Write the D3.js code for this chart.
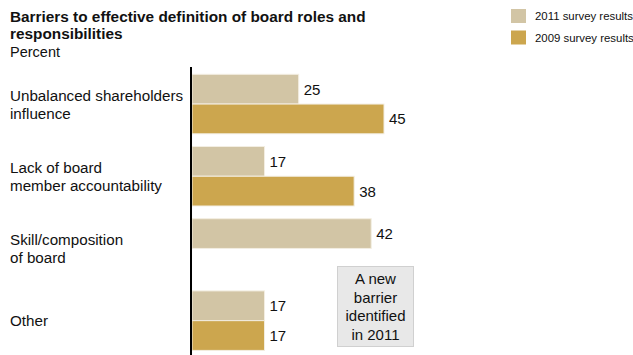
<!DOCTYPE html>
<html>
<head>
<meta charset="utf-8">
<script src="https://cdn.jsdelivr.net/npm/d3@7"></script>
<style>
  html, body { margin: 0; padding: 0; background: #fff; }
  svg { display: block; font-family: "Liberation Sans", Arial, Helvetica, sans-serif; }
</style>
</head>
<body>
<svg id="chart" width="633" height="355"></svg>
<script>
// Barriers to effective definition of board roles, by survey year (percent)
const categories = [
  ["Unbalanced shareholders", "influence"],
  ["Lack of board", "member accountability"],
  ["Skill/composition", "of board"],
  ["Other"]
];
const seriesNames = ["2011 survey results", "2009 survey results"];
const values2011 = [25, 17, 42, 17];
const values2009 = [45, 38, null, 17];
const colors = ["#d2c5a5", "#cca64e"];
const noteLines = ["A new", "barrier", "identified", "in 2011"];

const svg = d3.select("#chart");
const keys = categories.map((c, i) => i);

const x = d3.scaleLinear().domain([0, 45]).range([192, 384]);
const y0 = d3.scaleBand().domain(keys).range([74.3, 350.4]).paddingInner(0.176).paddingOuter(0);
const y1 = d3.scaleBand().domain([0, 1]).range([0, y0.bandwidth()]);

// Title block
const title = svg.append("g");
title.append("text").attr("x", 10).attr("y", 22).attr("font-size", 15.35).attr("font-weight", "bold")
  .attr("fill", "#111").text("Barriers to effective definition of board roles and");
title.append("text").attr("x", 10).attr("y", 39).attr("font-size", 15.35).attr("font-weight", "bold")
  .attr("fill", "#111").text("responsibilities");
title.append("text").attr("x", 10).attr("y", 57).attr("font-size", 14.5)
  .attr("fill", "#111").text("Percent");

// Legend
const legend = svg.append("g");
seriesNames.forEach((name, i) => {
  const ly = 9 + i * 21.5;
  legend.append("rect").attr("x", 511).attr("y", ly).attr("width", 15).attr("height", 14)
    .attr("fill", colors[i]);
  legend.append("text").attr("x", 535).attr("y", ly + 11).attr("font-size", 11.4)
    .attr("fill", "#111").text(name);
});

// Bars
const series = [values2011, values2009];
const groups = svg.append("g").selectAll("g").data(keys).join("g")
  .attr("transform", d => `translate(0,${y0(d)})`);

groups.each(function(ci) {
  const g = d3.select(this);
  series.forEach((vals, si) => {
    const v = vals[ci];
    if (v == null) return;
    g.append("rect")
      .attr("x", x(0)).attr("y", y1(si))
      .attr("width", x(v) - x(0)).attr("height", y1.bandwidth())
      .attr("fill", colors[si])
      .attr("stroke", "#f3eee2").attr("stroke-width", 1);
    g.append("text")
      .attr("x", x(v) + 5).attr("y", y1(si) + y1.bandwidth() / 2 + 5.5)
      .attr("font-size", 15).attr("fill", "#111").text(v);
  });
  // Category label, centred on the pair of bars
  const lines = categories[ci];
  const cy = y0.bandwidth() / 2;
  lines.forEach((line, li) => {
    g.append("text")
      .attr("x", 10)
      .attr("y", cy + (li - (lines.length - 1) / 2) * 18 + 5.5)
      .attr("font-size", 15.2).attr("fill", "#111").text(line);
  });
});

// Vertical baseline
svg.append("line").attr("x1", x(0) - 1).attr("x2", x(0) - 1).attr("y1", 67).attr("y2", 355)
  .attr("stroke", "#000").attr("stroke-width", 2);

// Annotation box
const note = svg.append("g");
note.append("rect").attr("x", 337.5).attr("y", 266.5).attr("width", 76).attr("height", 80)
  .attr("fill", "#e8e8e8").attr("stroke", "#d0d0d0").attr("stroke-width", 1);
noteLines.forEach((t, i) => {
  note.append("text").attr("x", 375.5).attr("y", 284 + i * 18.5)
    .attr("text-anchor", "middle").attr("font-size", 15).attr("fill", "#111").text(t);
});
</script>
</body>
</html>
